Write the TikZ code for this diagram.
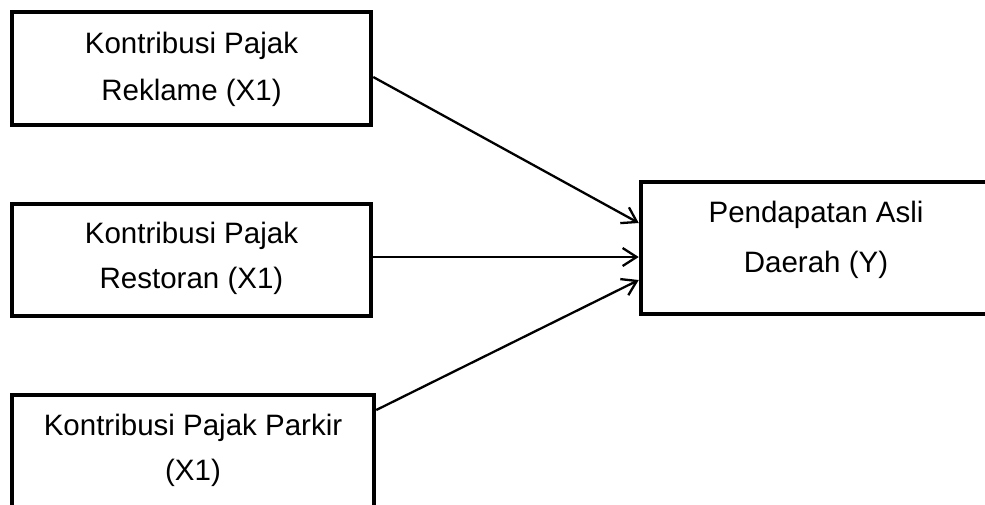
\documentclass[tikz,border=0pt]{standalone}
\usepackage{fontspec}
\setmainfont{Liberation Sans}
\usetikzlibrary{arrows.meta}
\begin{document}
\begin{tikzpicture}[x=1pt,y=-1pt,
  boxstyle/.style={draw, line width=4.5pt, rectangle, inner sep=0pt},
  lbl/.style={align=center, inner sep=0pt},
  conn/.style={line width=2.3pt, -{Straight Barb[length=14pt,width=18pt,line width=2.3pt]}}]
\useasboundingbox (0,0) rectangle (985,504);
\node[boxstyle, minimum width=359pt, minimum height=113pt] (b1) at (191.5,68.5) {};
\node[boxstyle, minimum width=359pt, minimum height=112pt] (b2) at (191.5,260) {};
\node[boxstyle, minimum width=362pt, minimum height=115pt] (b3) at (193,452.5) {};
\node[boxstyle, minimum width=349pt, minimum height=132pt] (b4) at (815.5,248) {};
\node[lbl, font=\fontsize{29.5}{47}\selectfont] (t1) at (191.5,69) {Kontribusi Pajak\\Reklame (X1)};
\node[lbl, font=\fontsize{29.5}{45}\selectfont] (t2) at (191.5,258) {Kontribusi Pajak\\Restoran (X1)};
\node[lbl, font=\fontsize{29.5}{45}\selectfont] (t3) at (193,450) {Kontribusi Pajak Parkir\\(X1)};
\node[lbl, font=\fontsize{29.5}{50}\selectfont] (t4) at (816,239.5) {Pendapatan Asli\\Daerah (Y)};
\draw[conn] (b1.east |- 0,77) -- (b4.west |- 0,223);
\draw[conn] (b2.east |- 0,257) -- (b4.west |- 0,257);
\draw[conn] (b3.east |- 0,410) -- (b4.west |- 0,280);
\end{tikzpicture}
\end{document}
